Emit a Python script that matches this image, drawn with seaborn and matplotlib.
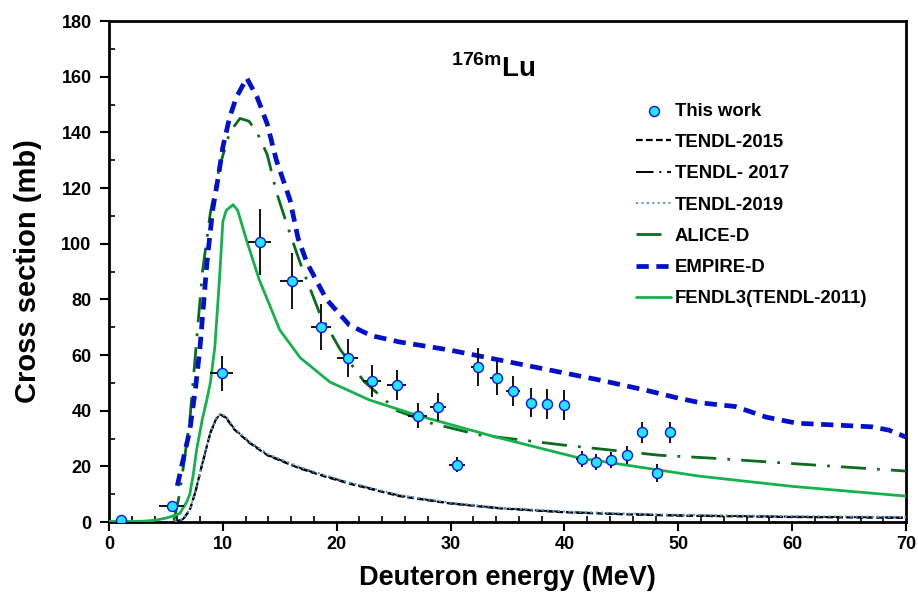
import matplotlib
matplotlib.use("Agg")
import matplotlib.pyplot as plt
import seaborn as sns

# ---- Experimental data (This work) ----
exp_x = [1.05, 5.5, 9.9, 13.25, 16.05, 18.6, 20.96, 23.07, 25.26, 27.1, 28.86, 30.6,
         32.37, 34.04, 35.5, 37.1, 38.5, 40.0, 41.5, 42.8, 44.1, 45.5, 46.8, 48.1, 49.3]
exp_y = [0.7, 5.7, 53.5, 100.6, 86.6, 70.1, 58.9, 50.7, 49.2, 38.1, 41.3, 20.5,
         55.7, 51.7, 47.1, 42.8, 42.4, 42.0, 22.6, 21.6, 22.3, 24.1, 32.3, 17.6, 32.3]
exp_yerr = [0.3, 1.0, 6.3, 11.7, 10.2, 8.4, 6.8, 5.7, 5.5, 4.5, 5.0, 2.7,
            6.8, 6.0, 5.4, 5.2, 5.3, 5.3, 3.0, 3.0, 3.0, 3.2, 3.8, 3.4, 3.8]
exp_xerr = [0.3, 1.1, 1.0, 1.0, 1.0, 0.9, 0.9, 0.8, 0.8, 0.8, 0.7, 0.7,
            0.6, 0.6, 0.6, 0.5, 0.5, 0.5, 0.5, 0.4, 0.4, 0.4, 0.4, 0.4, 0.4]

# ---- Model curves ----
tendl_x = [5.8, 6.5, 7.1, 7.6, 8.2, 8.9, 9.4, 9.8, 10.3, 11.0, 12.4, 14.0, 16.8, 19.0,
           21.1, 25.5, 29.9, 34.3, 40.0, 45.0, 50.0, 60.0, 70.0]
tendl2015_y = [0.0, 1.0, 4.3, 11.0, 21.0, 32.0, 37.0, 38.6, 37.3, 33.3, 28.2, 23.8, 19.2,
               16.3, 13.8, 9.3, 6.7, 4.9, 3.5, 2.8, 2.3, 1.8, 1.5]
tendl2017_y = [0.0, 1.0, 4.3, 11.0, 21.0, 32.0, 37.0, 38.8, 37.5, 33.5, 28.4, 24.0, 19.4,
               16.5, 14.0, 9.5, 6.8, 5.0, 3.6, 2.9, 2.4, 1.9, 1.6]
tendl2019_y = [0.0, 1.1, 4.5, 11.3, 21.3, 32.3, 37.3, 39.0, 37.8, 33.8, 28.7, 24.3, 19.7,
               16.8, 14.2, 9.7, 7.0, 5.2, 3.8, 3.1, 2.6, 2.1, 1.8]

alice_x = [5.7, 6.2, 7.1, 7.4, 8.2, 8.9, 9.7, 10.6, 11.5, 12.3, 13.0, 13.9, 14.7, 15.7,
           16.8, 18.5, 20.3, 22.4, 25.3, 28.2, 32.5, 39.8, 48.3, 52.7, 60.0, 70.0]
alice_y = [0.5, 10.0, 36.6, 51.0, 89.5, 111.0, 127.5, 140.0, 145.0, 144.0, 140.0, 132.0,
           118.6, 106.0, 93.0, 75.0, 62.0, 50.5, 40.0, 35.6, 31.3, 27.7, 24.0, 23.0, 21.0, 18.3]

empire_x = [6.0, 6.6, 7.1, 7.6, 8.0, 8.6, 9.1, 9.6, 10.0, 10.6, 11.2, 12.1, 13.0, 13.9,
            14.7, 15.9, 16.6, 17.4, 19.1, 21.1, 23.0, 25.5, 29.9, 34.3, 38.7, 43.1, 47.0,
            50.0, 52.0, 55.0, 57.7, 60.4, 63.0, 67.0, 68.5, 70.0]
empire_y = [13.0, 24.0, 33.0, 48.0, 63.0, 93.0, 112.0, 124.0, 134.7, 145.5, 152.7, 159.5,
            152.7, 143.0, 130.0, 115.7, 102.0, 93.0, 80.0, 70.8, 67.0, 64.7, 61.8, 58.2,
            54.6, 51.0, 47.5, 44.5, 42.8, 41.5, 37.7, 35.5, 35.0, 34.2, 33.0, 30.5]

fendl_x = [0.0, 2.0, 3.0, 4.0, 5.0, 5.5, 6.2, 6.8, 7.1, 7.4, 7.7, 8.2, 8.6, 8.9, 9.3, 9.7,
           10.0, 10.3, 10.9, 11.3, 12.1, 13.2, 15.0, 16.8, 19.4, 22.9, 27.0, 34.0, 41.3,
           51.8, 60.0, 70.0]
fendl_y = [0.2, 0.2, 0.3, 0.6, 1.4, 2.0, 3.0, 7.0, 10.0, 17.0, 26.0, 37.0, 44.0, 50.0, 63.0,
           87.0, 108.0, 112.0, 114.0, 112.0, 101.0, 87.0, 69.0, 59.0, 50.3, 43.8, 38.4,
           30.5, 23.0, 16.5, 12.8, 9.3]

xticks = list(range(0, 71, 10))
yticks = list(range(0, 181, 20))

sns.set_style("ticks")
plt.rcParams["font.family"] = ["Liberation Sans", "DejaVu Sans"]
plt.rcParams["font.weight"] = "bold"
plt.rcParams["text.color"] = "black"
plt.rcParams["axes.labelcolor"] = "black"
plt.rcParams["xtick.color"] = "black"
plt.rcParams["ytick.color"] = "black"
plt.rcParams["mathtext.fontset"] = "custom"
plt.rcParams["mathtext.bf"] = "Liberation Sans:bold"
plt.rcParams["mathtext.rm"] = "Liberation Sans:bold"

fig = plt.figure(figsize=(9.18, 5.94), dpi=100)
ax = fig.add_axes([0.1187, 0.1212, 0.8683, 0.8434])

ax.errorbar(exp_x, exp_y, yerr=exp_yerr, xerr=exp_xerr, fmt="none", ecolor="black",
            elinewidth=1.3, capsize=0, zorder=4)

sns.scatterplot(x=exp_x, y=exp_y, ax=ax, marker="o", s=52, color="#22E6FF",
                edgecolor="#1010EE", linewidth=1.0, zorder=5, label="This work")

sns.lineplot(x=tendl_x, y=tendl2015_y, ax=ax, color="black", linewidth=1.6,
             linestyle=(0, (3, 1.5)), label="TENDL-2015", errorbar=None, zorder=3)
sns.lineplot(x=tendl_x, y=tendl2017_y, ax=ax, color="black", linewidth=1.4,
             linestyle=(0, (9, 3, 1, 3)), label="TENDL- 2017", errorbar=None, zorder=3)
sns.lineplot(x=tendl_x, y=tendl2019_y, ax=ax, color="#5B9BD5", linewidth=1.5,
             linestyle=(0, (1, 1.6)), label="TENDL-2019", errorbar=None, zorder=3)
sns.lineplot(x=alice_x, y=alice_y, ax=ax, color="#0B6B1E", linewidth=2.0,
             linestyle=(0, (9, 4, 1, 4)), label="ALICE-D", errorbar=None, zorder=3)
sns.lineplot(x=empire_x, y=empire_y, ax=ax, color="#0010CC", linewidth=3.4,
             linestyle=(0, (2.6, 1.6)), label="EMPIRE-D", errorbar=None, zorder=3)
sns.lineplot(x=fendl_x, y=fendl_y, ax=ax, color="#14B24C", linewidth=2.0,
             linestyle="-", label="FENDL3(TENDL-2011)", errorbar=None, zorder=3)

ax.set_xlim(0, 70)
ax.set_ylim(0, 180)
ax.set_xticks(xticks)
ax.set_yticks(yticks)
ax.set_xticks(list(range(0, 71, 2)), minor=True)
ax.set_yticks(list(range(0, 181, 10)), minor=True)
ax.tick_params(axis="both", which="major", labelsize=13, width=1.5, length=6.5,
               direction="out", colors="black")
ax.tick_params(axis="y", which="major", pad=6)
ax.tick_params(axis="both", which="minor", width=1.2, length=4, direction="in")
for lab in ax.get_xticklabels() + ax.get_yticklabels():
    lab.set_fontweight("bold")

for sp in ax.spines.values():
    sp.set_visible(True)
    sp.set_linewidth(2.0)
    sp.set_color("black")

ax.set_xlabel("Deuteron energy (MeV)", fontsize=19.5, fontweight="bold", labelpad=9)
ax.set_ylabel("Cross section (mb)", fontsize=21, fontweight="bold", labelpad=14)

ax.text(30.0, 160.0, r"$^{\mathbf{176m}}\mathbf{Lu}$", fontsize=20, ha="left",
        va="baseline")

handles, labels = ax.get_legend_handles_labels()
leg = ax.legend(handles, labels, loc="upper left", bbox_to_anchor=(0.652, 0.852),
                frameon=False, fontsize=13.3, handlelength=1.9, handletextpad=0.2,
                labelspacing=0.775, borderaxespad=0)
for t in leg.get_texts():
    t.set_fontweight("bold")

fig.savefig("out.png", dpi=100)
